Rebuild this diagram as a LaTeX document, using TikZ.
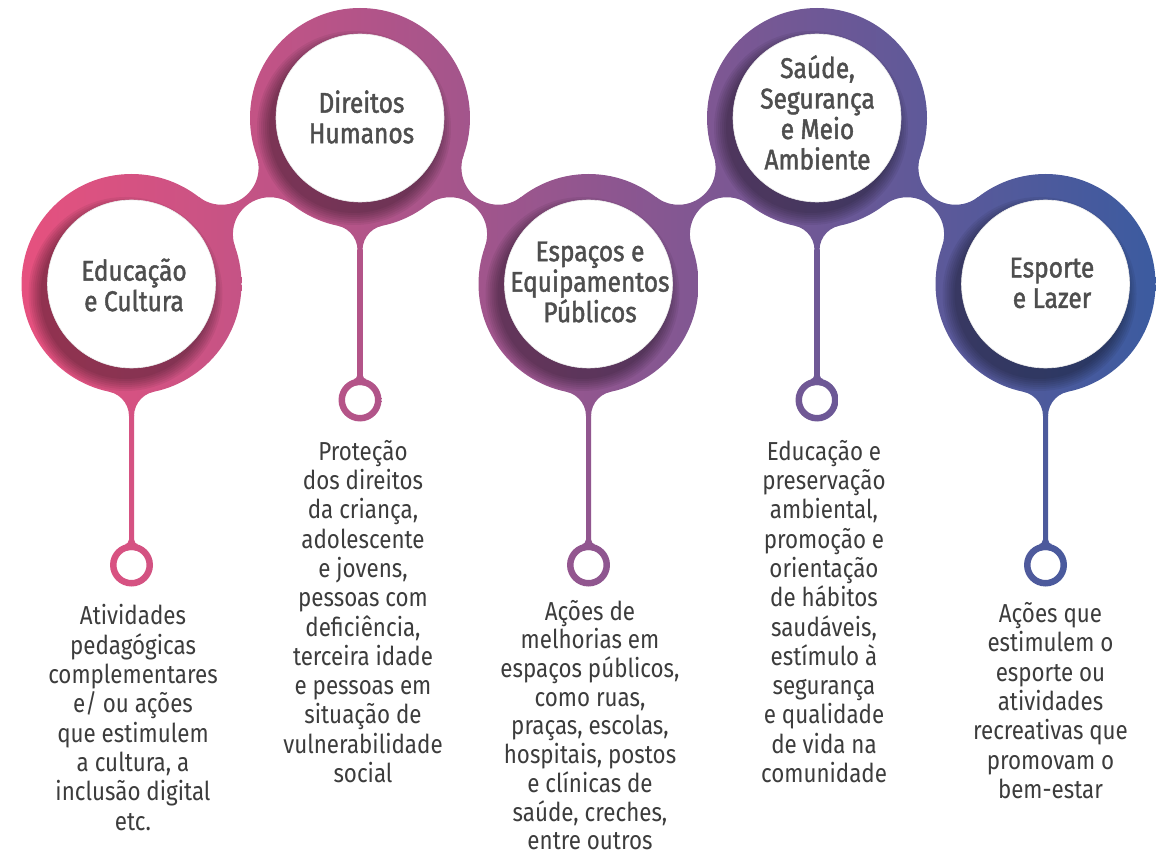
\documentclass[tikz,border=0pt]{standalone}
\usepackage{fontspec}
\setmainfont{Fira Sans}[FakeStretch=0.86]
\newfontfamily\titlefont{Fira Sans}[FakeStretch=0.86,FakeBold=1.5]
\definecolor{cpink}{HTML}{E9517E}
\definecolor{cmid}{HTML}{9A4E8E}
\definecolor{cblue}{HTML}{3A5BA0}
\definecolor{ctext}{HTML}{3C3C3C}
\definecolor{ctitle}{HTML}{4E4E4E}
\def\XR{110}\def\XF{37}\def\XG{25}\def\XS{2.5}
\newcommand\XShade{\shade[left color=cpink,middle color=cmid,right color=cblue] (0,0) rectangle (1167,858);}
\newcommand\XBig{(-20,-20) rectangle (1190,880)}
\newcommand\XBridge[4]{%
 \pgfmathsetmacro\Xdx{#3-#1}%
 \pgfmathsetmacro\Xdy{#4-#2}%
 \pgfmathsetmacro\Xd{10*veclen(\Xdx/10,\Xdy/10)}%
 \pgfmathsetmacro\Xh{10*sqrt(((\XR+\XF)/10)^2-(\Xd/20)^2)}%
 \pgfmathsetmacro\Xmx{(#1+#3)/2}%
 \pgfmathsetmacro\Xmy{(#2+#4)/2}%
 \pgfmathsetmacro\Xux{-\Xdy/\Xd*\Xh}%
 \pgfmathsetmacro\Xuy{\Xdx/\Xd*\Xh}%
 \pgfmathsetmacro\Xpx{\Xmx+\Xux}\pgfmathsetmacro\Xpy{\Xmy+\Xuy}%
 \pgfmathsetmacro\Xqx{\Xmx-\Xux}\pgfmathsetmacro\Xqy{\Xmy-\Xuy}%
 \begin{scope}[even odd rule]
  \clip \XBig (\Xpx,\Xpy) circle (\XF pt) (\Xqx,\Xqy) circle (\XF pt);
  \clip (#1,#2) -- (\Xpx,\Xpy) -- (#3,#4) -- (\Xqx,\Xqy) -- cycle;
  \XShade
 \end{scope}}
\newcommand\XStem[3]{% cx cy ringy
 \pgfmathsetmacro\Xb{10*sqrt(((\XR+\XG)/10)^2-((\XS+\XG)/10)^2)}%
 \pgfmathsetmacro\Xl{#1-\XS-\XG}\pgfmathsetmacro\Xr{#1+\XS+\XG}\pgfmathsetmacro\Xy{#2+\Xb}%
 \begin{scope}[even odd rule]
  \clip \XBig (\Xl,\Xy) circle (\XG pt) (\Xr,\Xy) circle (\XG pt);
  \clip (#1,#2) -- (\Xl,\Xy) -- (\Xr,\Xy) -- cycle;
  \XShade
 \end{scope}
 \begin{scope}
  \clip (#1-\XS,\Xy-1) rectangle (#1+\XS,#3-18);
  \XShade
 \end{scope}
 \begin{scope}[even odd rule]
  \clip (#1,#3) circle (21.5pt) (#1,#3) circle (15pt);
  \XShade
 \end{scope}
 \pgfmathsetmacro\Xrl{#1-7.5}\pgfmathsetmacro\Xrr{#1+7.5}\pgfmathsetmacro\Xry{#3-25.42}%
 \begin{scope}[even odd rule]
  \clip \XBig (\Xrl,\Xry) circle (5pt) (\Xrr,\Xry) circle (5pt) (#1,#3) circle (15pt);
  \clip (#1,#3) -- (\Xrl,\Xry) -- (\Xrr,\Xry) -- cycle;
  \XShade
 \end{scope}}
\newcommand\XCirc[2]{%
 \begin{scope}
  \clip (#1,#2) circle (\XR pt);
  \XShade
  \foreach \r in {97,95,...,85} {\fill[black,opacity=0.06] (#1-6,#2+10) circle (\r pt);}
 \end{scope}
 \fill[white] (#1,#2) circle (84pt);
 \draw[black!8,line width=0.6pt] (#1,#2) circle (84pt);}
\tikzset{
 ttl/.style={font=\titlefont\fontsize{28.5}{30.5}\selectfont,text=ctitle,align=center,inner sep=0pt},
 bdy/.style={font=\fontsize{26}{29.3}\selectfont,text=ctext,align=center,inner sep=0pt}}
\begin{document}
\begin{tikzpicture}[x=1pt,y=-1pt]
\useasboundingbox[fill=white] (0,0) rectangle (1167,858);
\XBridge{131.5}{284}{360}{118}
\XBridge{360}{118}{588.5}{284}
\XBridge{588.5}{284}{817}{118}
\XBridge{817}{118}{1045.5}{284}
\XStem{131.5}{284}{565}
\XStem{360}{118}{400}
\XStem{588.5}{284}{565}
\XStem{817}{118}{400}
\XStem{1045.5}{284}{565}
\XCirc{131.5}{284}
\XCirc{360}{118}
\XCirc{588.5}{284}
\XCirc{817}{118}
\XCirc{1045.5}{284}
\node[ttl] (t1) at (134,285) {Educação\\e Cultura};
\node[ttl] (t2) at (361.5,117) {Direitos\\Humanos};
\node[ttl] (t3) at (590,282) {Espaços e\\Equipamentos\\Públicos};
\node[ttl] (t4) at (817.5,112.5) {Saúde,\\Segurança\\e Meio\\Ambiente};
\node[ttl] (t5) at (1052,283) {Esporte\\e Lazer};
\node[bdy] (b1) at (133,717.5) {Atividades\\pedagógicas\\complementares\\e/ ou ações\\que estimulem\\a cultura, a\\inclusão digital\\etc.};
\node[bdy] (b2) at (363,611.5) {Proteção\\dos direitos\\da criança,\\adolescente\\e jovens,\\pessoas com\\deficiência,\\terceira idade\\e pessoas em\\situação de\\vulnerabilidade\\social};
\node[bdy,font=\fontsize{26}{28.7}\selectfont] (b3) at (590,725) {Ações de\\melhorias em\\espaços públicos,\\como ruas,\\praças, escolas,\\hospitais, postos\\e clínicas de\\saúde, creches,\\entre outros};
\node[bdy] (b4) at (824,611.5) {Educação e\\preservação\\ambiental,\\promoção e\\orientação\\de hábitos\\saudáveis,\\estímulo à\\segurança\\e qualidade\\de vida na\\comunidade};
\node[bdy] (b5) at (1050.5,700.5) {Ações que\\estimulem o\\esporte ou\\atividades\\recreativas que\\promovam o\\bem-estar};
\end{tikzpicture}
\end{document}
